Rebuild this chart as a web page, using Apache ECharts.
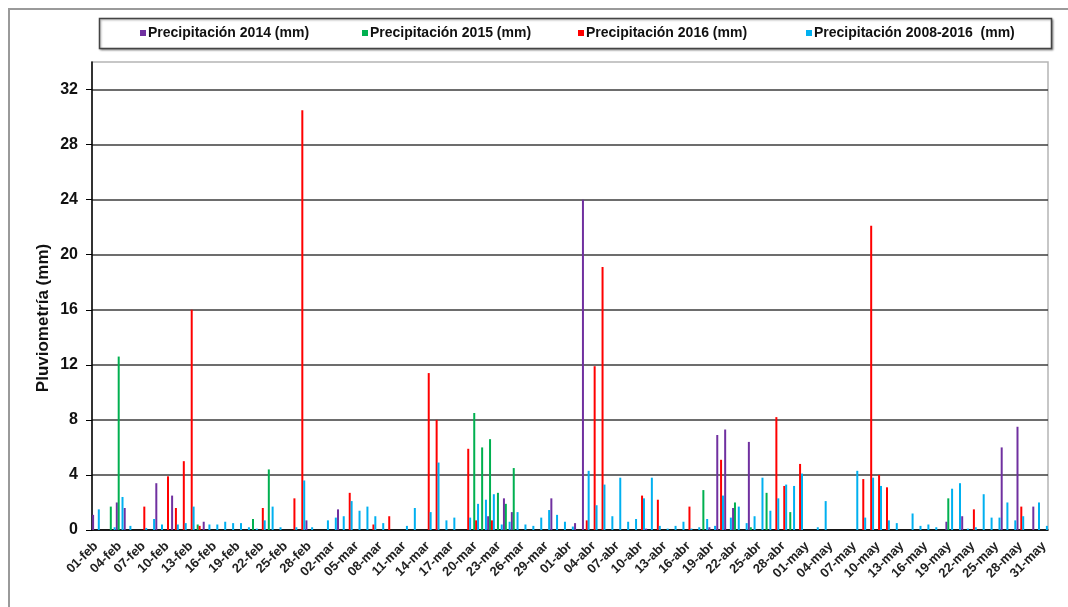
<!DOCTYPE html>
<html>
<head>
<meta charset="utf-8">
<script src="https://cdn.jsdelivr.net/npm/echarts@6/dist/echarts.min.js"></script>
<style>
html, body { margin: 0; padding: 0; background: #fff; }
#main { width: 1068px; height: 607px; }
</style>
</head>
<body>
<div id="main"></div>
<script>
var myChart = echarts.init(document.getElementById('main'));

// months shown on the axis and their number of days (2016, leap year)
var months = ['feb', 'mar', 'abr', 'may'];
var monthDays = [29, 31, 30, 31];

var seriesNames = [
	'Precipitación 2014 (mm)',
	'Precipitación 2015 (mm)',
	'Precipitación 2016 (mm)',
	'Precipitación 2008-2016  (mm)'
];
var seriesColors = ['#7030A0', '#00B050', '#FF0000', '#00B0F0'];

// daily rainfall, 01-feb .. 31-may (121 days)
var rain2014 = [
	1.1, 0, 0, 2.0, 1.6, 0, 0, 0, 3.4, 0,
	2.5, 0, 0, 0, 0.6, 0, 0, 0, 0, 0,
	0, 0, 0, 0, 0, 0, 0, 0.7, 0, 0,
	0, 1.5, 0, 0, 0, 0, 0, 0, 0, 0,
	0, 0, 0, 0, 0, 0, 0, 0, 0, 0,
	1.0, 0, 2.3, 1.3, 0, 0, 0, 0, 2.3, 0,
	0, 0.5, 24.0, 0, 0, 0, 0, 0, 0, 0,
	0.1, 0, 0, 0, 0, 0, 0, 0, 0.2, 6.9,
	7.3, 1.6, 0, 6.4, 0, 0, 0, 0, 0, 0,
	0, 0, 0, 0, 0, 0, 0, 0, 0, 0,
	0, 0, 0, 0, 0, 0, 0, 0, 0.6, 0,
	1.0, 0, 0, 0, 0, 6.0, 0, 7.5, 0, 1.7,
	0
];
var rain2015 = [
	0, 0, 1.7, 12.6, 0, 0, 0, 0, 0, 0,
	0, 0, 0, 0.4, 0, 0, 0, 0, 0, 0,
	0.8, 0, 4.4, 0, 0, 0, 0, 0, 0, 0,
	0, 0, 0, 0, 0, 0, 0, 0, 0, 0,
	0, 0, 0, 0, 0, 0, 0, 0, 8.5, 6.0,
	6.6, 2.7, 1.9, 4.5, 0, 0, 0, 0, 0, 0,
	0, 0, 0, 0, 0, 0, 0, 0, 0, 0,
	0, 0, 0, 0, 0, 0, 0, 2.9, 0, 0,
	0, 2.0, 0, 0.2, 0, 2.7, 0, 0, 1.3, 0,
	0, 0, 0, 0, 0, 0, 0, 0, 0, 0,
	0, 0, 0, 0, 0, 0, 0, 0, 2.3, 0,
	0, 0, 0, 0, 0, 0, 0, 0, 0, 0,
	0
];
var rain2016 = [
	0, 0, 0, 0, 0, 0, 1.7, 0, 0, 3.9,
	1.6, 5.0, 16.0, 0.3, 0, 0, 0, 0, 0, 0,
	0, 1.6, 0, 0, 0, 2.3, 30.5, 0, 0, 0,
	0, 0, 2.7, 0, 0, 0.4, 0, 1.0, 0, 0,
	0, 0, 11.4, 8.0, 0, 0, 0, 5.9, 0.7, 0,
	0.7, 0, 0, 0, 0, 0, 0, 0, 0, 0,
	0, 0, 0.7, 11.9, 19.1, 0, 0, 0, 0, 2.5,
	0, 2.2, 0, 0, 0, 1.7, 0, 0, 0, 5.1,
	0, 0, 0, 0, 0, 0, 8.2, 3.2, 0, 4.8,
	0, 0, 0, 0, 0, 0, 0, 3.7, 22.1, 4.0,
	3.1, 0, 0, 0, 0, 0, 0, 0, 0, 0,
	0, 1.5, 0, 0, 0, 0, 0, 1.7, 0, 0,
	0
];
var rainMean = [
	1.5, 0, 0.2, 2.4, 0.3, 0, 0.15, 0.8, 0.4, 0,
	0.4, 0.5, 1.7, 0, 0.4, 0.4, 0.6, 0.5, 0.5, 0.2,
	0.1, 0.7, 1.7, 0.2, 0, 0.2, 3.6, 0.2, 0, 0.7,
	0.9, 1.0, 2.1, 1.4, 1.7, 1.0, 0.5, 0, 0, 0.3,
	1.6, 0, 1.3, 4.9, 0.7, 0.9, 0, 0.9, 1.9, 2.2,
	2.6, 0.4, 0.6, 1.3, 0.4, 0.3, 0.9, 1.45, 1.1, 0.6,
	0.25, 0, 4.3, 1.8, 3.3, 1.0, 3.8, 0.6, 0.8, 2.3,
	3.8, 0.3, 0.1, 0.3, 0.6, 0.1, 0.2, 0.8, 0.3, 2.5,
	0.9, 1.7, 0.5, 1.0, 3.8, 1.4, 2.3, 3.3, 3.2, 4.1,
	0, 0.2, 2.1, 0, 0, 0, 4.3, 0.9, 3.8, 3.2,
	0.7, 0.5, 0, 1.2, 0.3, 0.4, 0.2, 0, 3.0, 3.4,
	0.1, 0.2, 2.6, 0.9, 0.9, 2.0, 0.7, 1.0, 0, 2.0,
	0.3
];

var yTicks = [0, 4, 8, 12, 16, 20, 24, 28, 32];
var yTitle = 'Pluviometría (mm)';

// build the day labels: 01-feb, 02-feb ...
var days = [];
for (var m = 0; m < months.length; m++) {
	for (var d = 1; d <= monthDays[m]; d++) {
		days.push((d < 10 ? '0' + d : '' + d) + '-' + months[m]);
	}
}

var allData = [rain2014, rain2015, rain2016, rainMean];
var legendLeft = [140, 362, 578, 806];

var font = '"Liberation Sans", Arial, sans-serif';

var option = {
	animation: false,
	backgroundColor: '#fff',
	graphic: [
		{
			type: 'rect',
			shape: { x: 9, y: 9, width: 1100, height: 700 },
			style: { fill: 'none', stroke: '#9a9a9a', lineWidth: 2 },
			silent: true
		},
		{
			type: 'rect',
			shape: { x: 99.5, y: 18.5, width: 952, height: 30 },
			style: {
				fill: '#fff', stroke: '#444', lineWidth: 1.5,
				shadowBlur: 2, shadowOffsetX: 1, shadowOffsetY: 1, shadowColor: 'rgba(0,0,0,0.35)'
			},
			silent: true
		},
		{
			type: 'text',
			x: 43,
			y: 318,
			rotation: Math.PI / 2,
			style: {
				text: yTitle,
				fontFamily: font,
				fontWeight: 'bold',
				fontSize: 17,
				fill: '#111',
				align: 'center',
				verticalAlign: 'middle'
			},
			silent: true
		}
	],
	legend: seriesNames.map(function(n, i) {
		return {
			data: [n],
			left: legendLeft[i],
			top: 26,
			icon: 'rect',
			itemWidth: 6,
			itemHeight: 6,
			padding: 0,
			selectedMode: false,
			textStyle: {
				fontFamily: font,
				fontWeight: 'bold',
				fontSize: 14,
				color: '#111',
				padding: [0, 0, 0, -3]
			}
		};
	}),
	grid: {
		left: 92,
		top: 62,
		width: 956,
		height: 468,
		show: true,
		borderColor: '#b5b5b5',
		borderWidth: 1.5,
		containLabel: false
	},
	xAxis: {
		type: 'category',
		data: days,
		boundaryGap: true,
		axisLine: { lineStyle: { color: '#000', width: 1.5 } },
		axisTick: { interval: 2, length: 5, lineStyle: { color: '#000' } },
		axisLabel: {
			interval: 2,
			rotate: 45,
			margin: 14,
			fontFamily: font,
			fontWeight: 'bold',
			fontSize: 13,
			color: '#222'
		},
		splitLine: { show: false }
	},
	yAxis: {
		type: 'value',
		min: 0,
		max: 34,
		interval: 4,
		axisLine: { show: true, lineStyle: { color: '#000', width: 1.5 } },
		axisTick: { show: true, length: 6, lineStyle: { color: '#000' } },
		axisLabel: {
			margin: 14,
			showMaxLabel: false,
			fontFamily: font,
			fontWeight: 'bold',
			fontSize: 16,
			color: '#111',
			formatter: function(v) { return yTicks.indexOf(v) >= 0 ? v : ''; }
		},
		splitLine: {
			showMaxLine: false,
			lineStyle: { color: '#3c3c3c', width: 1.6 }
		}
	},
	series: seriesNames.map(function(n, i) {
		return {
			name: n,
			type: 'bar',
			data: allData[i],
			barWidth: 2,
			barGap: '-5%',
			itemStyle: { color: seriesColors[i] }
		};
	})
};

myChart.setOption(option);
</script>
</body>
</html>
